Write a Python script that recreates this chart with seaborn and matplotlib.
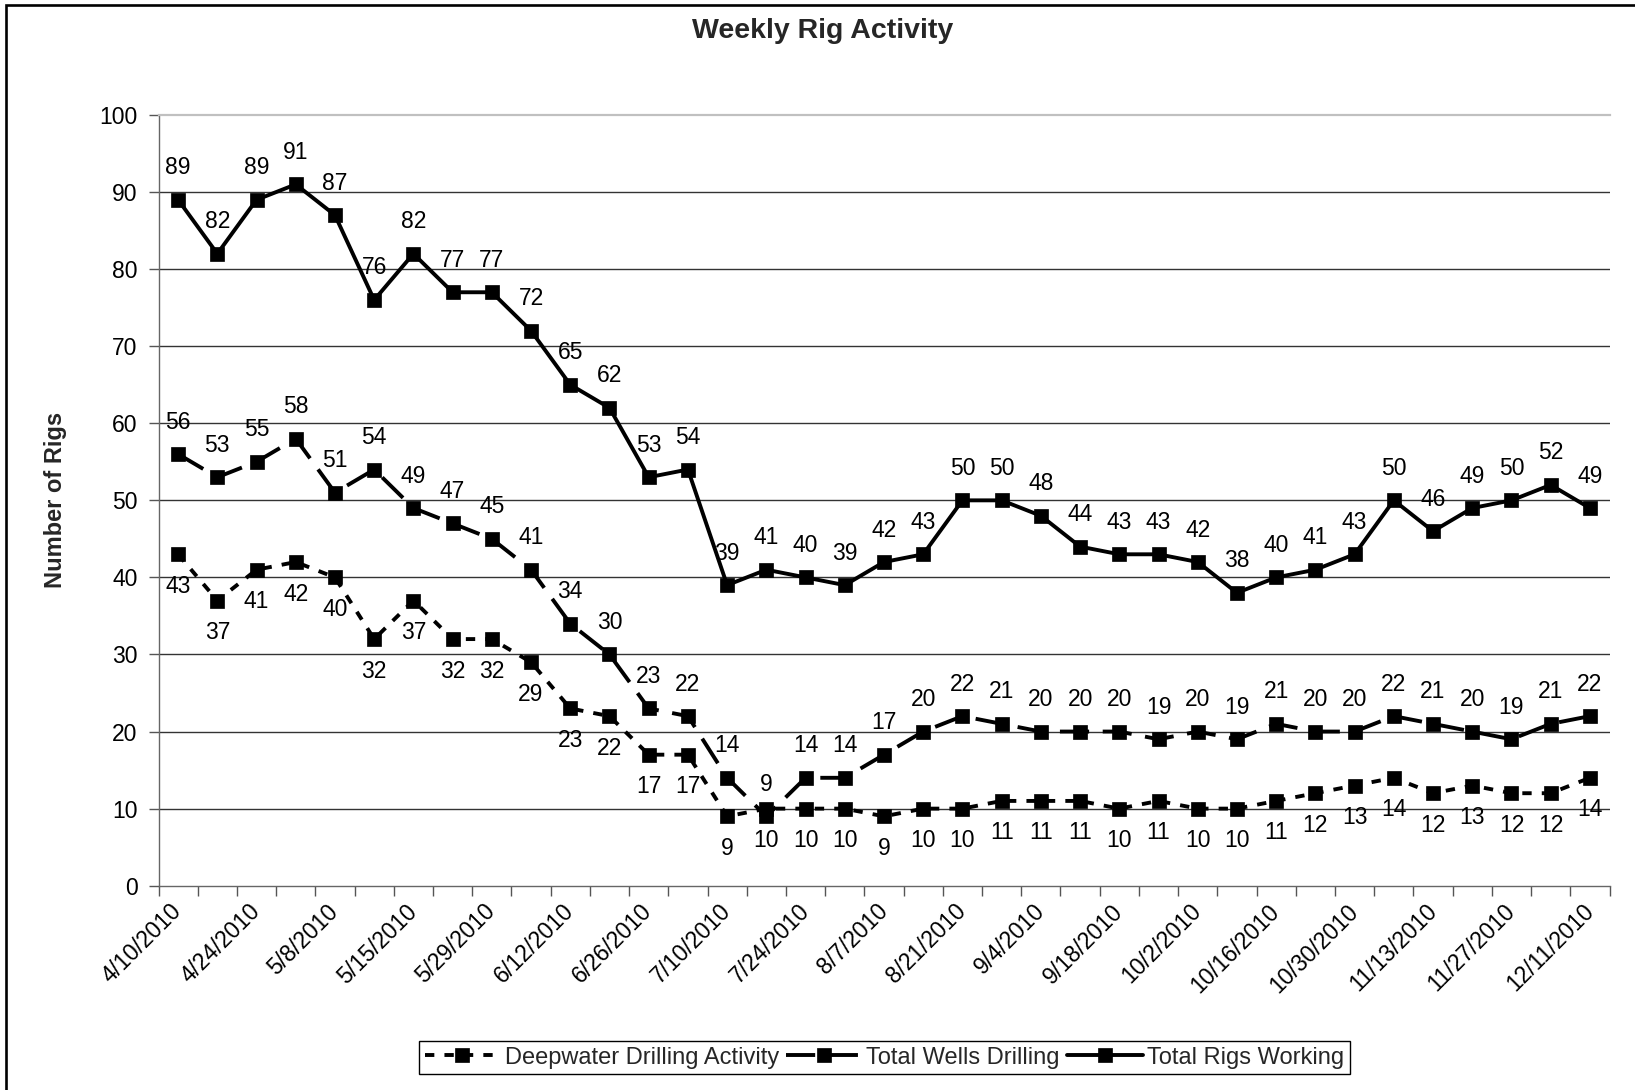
import matplotlib
matplotlib.use("Agg")
import matplotlib.pyplot as plt
from matplotlib.patches import Rectangle
import seaborn as sns
import numpy as np

# ---------------- data ----------------
tick_dates = ["4/10/2010", "4/24/2010", "5/8/2010", "5/15/2010", "5/29/2010",
              "6/12/2010", "6/26/2010", "7/10/2010", "7/24/2010", "8/7/2010",
              "8/21/2010", "9/4/2010", "9/18/2010", "10/2/2010", "10/16/2010",
              "10/30/2010", "11/13/2010", "11/27/2010", "12/11/2010"]

total_rigs = [89, 82, 89, 91, 87, 76, 82, 77, 77, 72, 65, 62, 53, 54, 39, 41, 40,
              39, 42, 43, 50, 50, 48, 44, 43, 43, 42, 38, 40, 41, 43, 50, 46, 49,
              50, 52, 49]
total_wells = [56, 53, 55, 58, 51, 54, 49, 47, 45, 41, 34, 30, 23, 22, 14, 9, 14,
               14, 17, 20, 22, 21, 20, 20, 20, 19, 20, 19, 21, 20, 20, 22, 21, 20,
               19, 21, 22]
deepwater = [43, 37, 41, 42, 40, 32, 37, 32, 32, 29, 23, 22, 17, 17, 9, 10, 10,
             10, 9, 10, 10, 11, 11, 11, 10, 11, 10, 10, 11, 12, 13, 14, 12, 13,
             12, 12, 14]

series_names = ["Deepwater Drilling Activity", "Total Wells Drilling", "Total Rigs Working"]
yticks = list(range(0, 101, 10))

# ---------------- style ----------------
sns.set_style("white")
plt.rcParams["font.family"] = ["Liberation Sans", "DejaVu Sans"]

W, H = 1635, 1090
fig = plt.figure(figsize=(W / 100, H / 100), dpi=100)
left, right, top, bottom = 158.5, 1609.5, 115.0, 885.7
ax = fig.add_axes([left / W, 1 - bottom / H, (right - left) / W, (bottom - top) / H])

n = len(total_rigs)
x = np.arange(n)

styles = [
    (deepwater, (0, (2.4, 2.6)), -1),
    (total_wells, (0, (7.5, 3.5)), 1),
    (total_rigs, "-", 1),
]

for (vals, ls, side), name in zip(styles, series_names):
    sns.lineplot(x=x, y=vals, ax=ax, color="black", linestyle=ls, linewidth=2.8,
                 marker="s", markersize=9.5, markeredgecolor="black",
                 markerfacecolor="black", markeredgewidth=0.5, label=name,
                 sort=False, errorbar=None, zorder=3)
    for i, v in enumerate(vals):
        ax.annotate(str(v), (i, v), xytext=(0, 32 * side), textcoords="offset pixels",
                    ha="center", va="center", fontsize=16.5, color="black", zorder=4)

# gridlines (no line at the top: the plot-area border is there)
for yv in yticks[1:-1]:
    ax.axhline(yv, color="#333333", linewidth=1.0, zorder=1)

ax.set_xlim(-0.5, n - 0.5)
ax.set_ylim(0, 100)
ax.set_yticks(yticks)
ax.set_yticklabels([str(v) for v in yticks])

ax.set_xticks(np.arange(0, n, 2))
ax.set_xticklabels(tick_dates, rotation=45, ha="right", va="center",
                   rotation_mode="anchor")
ax.set_xticks(np.arange(-0.5, n, 1.0), minor=True)
ax.tick_params(axis="x", which="major", length=0, pad=16, labelsize=16.5, colors="black")
ax.tick_params(axis="x", which="minor", length=7, width=1, color="#555555", direction="out", bottom=True)
ax.tick_params(axis="y", which="major", length=7, width=1, color="#555555", direction="out",
               left=True, pad=8, labelsize=16.5, labelcolor="black")

for s in ["left", "bottom"]:
    ax.spines[s].set_color("#666666")
    ax.spines[s].set_linewidth(1.0)
ax.spines["top"].set_color("#c0c0c0")
ax.spines["top"].set_linewidth(1.6)
ax.spines["right"].set_visible(False)

ax.set_xlabel("")
ax.set_ylabel("Number of Rigs", fontsize=17, fontweight="bold", va="center")
ax.yaxis.set_label_coords((55 - left) / (right - left), 0.5)

fig.text(0.503, 1 - 31 / H, "Weekly Rig Activity", ha="center", va="center",
         fontsize=20.5, fontweight="bold")

handles, labels = ax.get_legend_handles_labels()
leg = ax.legend(handles, labels, loc="center", bbox_to_anchor=(0.541, 0.0298),
                bbox_transform=fig.transFigure, ncol=3, fontsize=17, frameon=True,
                fancybox=False, edgecolor="black", framealpha=1, handlelength=3.2,
                handletextpad=0.2, columnspacing=0.3, borderpad=0.25, borderaxespad=0)
leg.get_frame().set_linewidth(1.0)

# outer chart frame (clipped on right/bottom as in the reference)
fig.add_artist(Rectangle((5.5 / W, -0.5), 2, 1 - 5.5 / H + 0.5, transform=fig.transFigure,
                         fill=False, edgecolor="black", linewidth=1.9, clip_on=False))

fig.savefig("out.png", dpi=100)
